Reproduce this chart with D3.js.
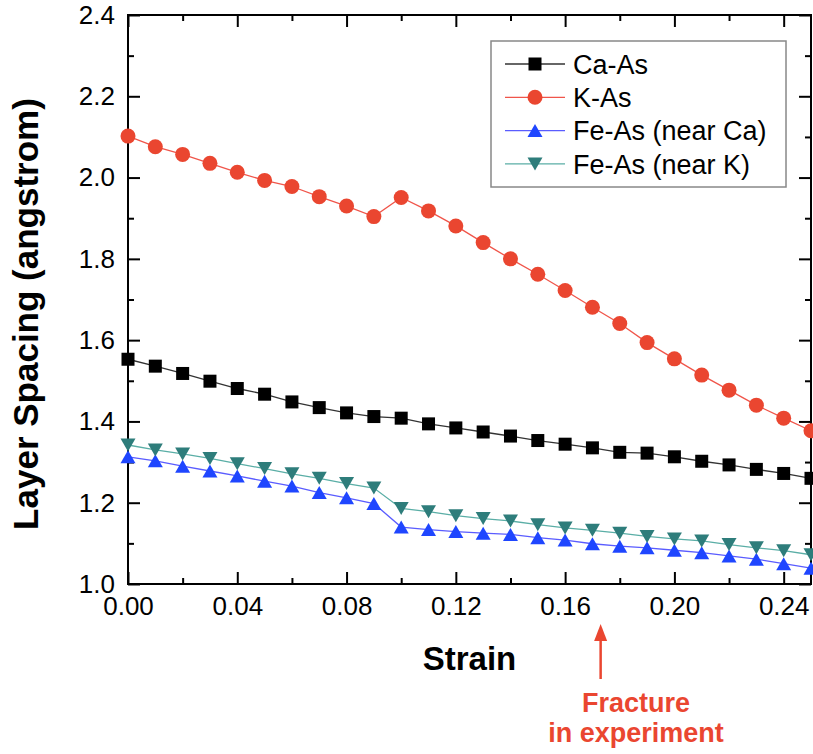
<!DOCTYPE html>
<html><head><meta charset="utf-8">
<script src="https://cdn.jsdelivr.net/npm/d3@7"></script>
<style>body{margin:0;background:#fff}svg{display:block}</style>
</head><body>
<svg id="c" width="813" height="754"></svg>
<script>
// ---- data ----
const strain = [0.00,0.01,0.02,0.03,0.04,0.05,0.06,0.07,0.08,0.09,0.10,0.11,0.12,0.13,0.14,0.15,0.16,0.17,0.18,0.19,0.20,0.21,0.22,0.23,0.24,0.25];
const caAs   = [1.553,1.536,1.518,1.499,1.481,1.467,1.448,1.434,1.421,1.412,1.408,1.394,1.384,1.374,1.364,1.353,1.344,1.335,1.324,1.322,1.313,1.302,1.293,1.282,1.272,1.260];
const kAs    = [2.102,2.076,2.057,2.035,2.013,1.993,1.978,1.953,1.930,1.904,1.951,1.918,1.881,1.840,1.800,1.762,1.722,1.681,1.641,1.594,1.554,1.514,1.477,1.440,1.408,1.377];
const feAsCa = [1.313,1.303,1.290,1.278,1.266,1.253,1.241,1.225,1.212,1.198,1.140,1.134,1.129,1.125,1.122,1.114,1.108,1.099,1.093,1.089,1.083,1.077,1.069,1.061,1.050,1.039];
const feAsK  = [1.342,1.330,1.320,1.309,1.296,1.284,1.271,1.260,1.247,1.236,1.186,1.178,1.168,1.161,1.155,1.146,1.138,1.132,1.125,1.117,1.111,1.106,1.097,1.089,1.082,1.072];
const seriesNames = ["Ca-As","K-As","Fe-As (near Ca)","Fe-As (near K)"];
const xMajor = [0.00,0.04,0.08,0.12,0.16,0.20,0.24];
const xMinor = [0.02,0.06,0.10,0.14,0.18,0.22];
const yMajor = [1.0,1.2,1.4,1.6,1.8,2.0,2.2,2.4];
const yMinor = [1.1,1.3,1.5,1.7,1.9,2.1,2.3];
const xTitle = "Strain";
const yTitle = "Layer Spacing (angstrom)";
const noteLines = ["Fracture","in experiment"];
const noteStrain = 0.173;

// ---- layout ----
const L=128, R=811, T=15, B=584;
const FONT = "'Liberation Sans', Arial, Helvetica, sans-serif";
const svg = d3.select("#c");
const x = d3.scaleLinear([0,0.25],[L,R]);
const y = d3.scaleLinear([1.0,2.4],[B,T]);

const series = [
  {name:seriesNames[0], vals:caAs,   line:"#333333", fill:"#000000", shape:"square"},
  {name:seriesNames[1], vals:kAs,    line:"#f0554a", fill:"#ea4630", shape:"circle"},
  {name:seriesNames[2], vals:feAsCa, line:"#5a5cff", fill:"#1f46ff", shape:"up"},
  {name:seriesNames[3], vals:feAsK,  line:"#5aaea6", fill:"#2e7d7b", shape:"down"}
];

function marker(g, shape, fill){
  if(shape==="square") g.append("rect").attr("x",-6.5).attr("y",-6.5).attr("width",13).attr("height",13).attr("fill",fill);
  else if(shape==="circle") g.append("circle").attr("r",7.5).attr("fill",fill);
  else if(shape==="up") g.append("path").attr("d","M0,-6.5L7.5,6.5L-7.5,6.5Z").attr("fill",fill);
  else g.append("path").attr("d","M0,6.5L7.5,-6.5L-7.5,-6.5Z").attr("fill",fill);
}

// axes (inward ticks)
function styleAxis(g){
  g.select(".domain").remove();
  g.selectAll(".tick line").attr("stroke","#000").attr("stroke-width",2);
  g.selectAll("text").attr("font-family",FONT).attr("font-size",26).attr("fill","#000");
}
svg.append("g").attr("transform",`translate(0,${B})`)
  .call(d3.axisBottom(x).tickValues(xMajor).tickSize(-12).tickPadding(13).tickFormat(d3.format(".2f"))).call(styleAxis);
svg.append("g").attr("transform",`translate(0,${B})`)
  .call(d3.axisBottom(x).tickValues(xMinor).tickSize(-6).tickFormat("")).call(styleAxis);
svg.append("g").attr("transform",`translate(0,${T})`)
  .call(d3.axisTop(x).tickValues(xMajor).tickSize(-12).tickFormat("")).call(styleAxis);
svg.append("g").attr("transform",`translate(0,${T})`)
  .call(d3.axisTop(x).tickValues(xMinor).tickSize(-6).tickFormat("")).call(styleAxis);
svg.append("g").attr("transform",`translate(${L},0)`)
  .call(d3.axisLeft(y).tickValues(yMajor).tickSize(-12).tickPadding(13).tickFormat(d3.format(".1f"))).call(styleAxis);
svg.append("g").attr("transform",`translate(${L},0)`)
  .call(d3.axisLeft(y).tickValues(yMinor).tickSize(-6).tickFormat("")).call(styleAxis);
svg.append("g").attr("transform",`translate(${R},0)`)
  .call(d3.axisRight(y).tickValues(yMajor).tickSize(-12).tickFormat("")).call(styleAxis);
svg.append("g").attr("transform",`translate(${R},0)`)
  .call(d3.axisRight(y).tickValues(yMinor).tickSize(-6).tickFormat("")).call(styleAxis);

svg.append("rect").attr("x",L).attr("y",T).attr("width",R-L).attr("height",B-T)
  .attr("fill","none").attr("stroke","#000").attr("stroke-width",2);

// series
const line = d3.line().x((d,i)=>x(strain[i])).y(d=>y(d));
series.forEach(s=>{
  svg.append("path").attr("d",line(s.vals)).attr("fill","none").attr("stroke",s.line).attr("stroke-width",1.3);
});
series.forEach(s=>{
  s.vals.forEach((v,i)=>{
    const g = svg.append("g").attr("transform",`translate(${x(strain[i])},${y(v)})`);
    marker(g, s.shape, s.fill);
  });
});

// legend
const lg = svg.append("g");
lg.append("rect").attr("x",491).attr("y",41).attr("width",295).attr("height",146)
  .attr("fill","#fff").attr("stroke","#888").attr("stroke-width",1.5);
series.forEach((s,i)=>{
  const yy = 64 + i*33.3;
  lg.append("line").attr("x1",505).attr("x2",565).attr("y1",yy).attr("y2",yy).attr("stroke",s.line).attr("stroke-width",1.3);
  marker(lg.append("g").attr("transform",`translate(535,${yy})`), s.shape, s.fill);
  lg.append("text").attr("x",573).attr("y",yy).attr("dy","0.36em").attr("font-family",FONT).attr("font-size",27).text(s.name);
});

// titles
svg.append("text").attr("x",(L+R)/2).attr("y",670).attr("text-anchor","middle")
  .attr("font-family",FONT).attr("font-weight","bold").attr("font-size",33).text(xTitle);
svg.append("text").attr("transform","translate(38,314) rotate(-90)").attr("text-anchor","middle")
  .attr("font-family",FONT).attr("font-weight","bold").attr("font-size",35).text(yTitle);

// annotation
const red = "#ea4630";
const ax = x(noteStrain);
svg.append("line").attr("x1",ax).attr("x2",ax).attr("y1",679).attr("y2",638).attr("stroke",red).attr("stroke-width",2.5);
svg.append("path").attr("d",`M${ax},624L${ax+6.5},641L${ax-6.5},641Z`).attr("fill",red);
svg.append("text").attr("x",636).attr("y",712).attr("text-anchor","middle")
  .attr("font-family",FONT).attr("font-weight","bold").attr("font-size",27).attr("fill",red).text(noteLines[0]);
svg.append("text").attr("x",636).attr("y",742).attr("text-anchor","middle")
  .attr("font-family",FONT).attr("font-weight","bold").attr("font-size",27).attr("fill",red).text(noteLines[1]);
</script>
</body></html>
